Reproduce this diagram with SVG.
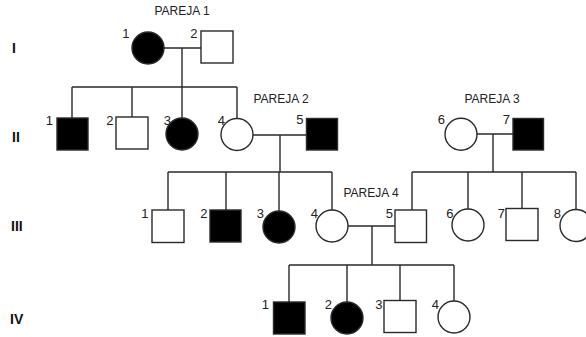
<svg xmlns="http://www.w3.org/2000/svg" width="586" height="337" viewBox="0 0 586 337">
<style>
.s{stroke:#2a2a2a;stroke-width:1.4;fill:#fff}
.f{stroke:#2a2a2a;stroke-width:1.4;fill:#000}
.l{stroke:#2a2a2a;stroke-width:1.4;fill:none}
.n{font-family:"Liberation Sans",Arial,sans-serif;font-size:13px;fill:#222;text-anchor:end}
.p{font-family:"Liberation Sans",Arial,sans-serif;font-size:12px;fill:#222;text-anchor:middle}
.r{font-family:"Liberation Sans",Arial,sans-serif;font-size:14px;font-weight:bold;fill:#111}
</style>
<rect width="586" height="337" fill="#fff"/>
<g id="generations">
<text class="r" x="12" y="53">I</text>
<text class="r" x="12" y="142">II</text>
<text class="r" x="11" y="231">III</text>
<text class="r" x="10" y="324">IV</text>
</g>
<g id="couple-labels">
<text class="p" x="182" y="15">PAREJA 1</text>
<text class="p" x="281" y="103">PAREJA 2</text>
<text class="p" x="492" y="103">PAREJA 3</text>
<text class="p" x="371" y="197">PAREJA 4</text>
</g>
<g id="connectors">
<path class="l" d="M164 48H201M182 48V87M72 87H237M72 87V118M132 87V117M182 87V118M237 87V118"/>
<path class="l" d="M253 135H306M280 135V172M168 172H332M168 172V210M226 172V210M279 172V211M332 172V210"/>
<path class="l" d="M477 134H513M493 134V172M412 172H576M412 172V210M468 172V209M522 172V208M576 172V209"/>
<path class="l" d="M348 226H395M372 226V265M289 265H454M289 265V302M347 265V302M400 265V300M454 265V301"/>
</g>
<g id="I-1"><circle class="f" cx="148" cy="48" r="16"/><text class="n" x="129.5" y="38">1</text></g>
<g id="I-2"><rect class="s" x="201" y="31" width="32" height="32"/><text class="n" x="197.5" y="38">2</text></g>
<g id="II-1"><rect class="f" x="57" y="118" width="31" height="32"/><text class="n" x="53" y="125">1</text></g>
<g id="II-2"><rect class="s" x="116" y="117" width="32" height="32"/><text class="n" x="113.5" y="125">2</text></g>
<g id="II-3"><circle class="f" cx="182" cy="134" r="16"/><text class="n" x="171" y="125">3</text></g>
<g id="II-4"><circle class="s" cx="237" cy="134.5" r="16"/><text class="n" x="225" y="125">4</text></g>
<g id="II-5"><rect class="f" x="306.5" y="118.5" width="31" height="31.5"/><text class="n" x="303.5" y="124">5</text></g>
<g id="II-6"><circle class="s" cx="461" cy="134.3" r="16"/><text class="n" x="445" y="124">6</text></g>
<g id="II-7"><rect class="f" x="513" y="118.5" width="30.5" height="31.5"/><text class="n" x="510" y="124">7</text></g>
<g id="III-1"><rect class="s" x="152" y="210" width="32" height="32.5"/><text class="n" x="148.5" y="218">1</text></g>
<g id="III-2"><rect class="f" x="210" y="210" width="31" height="32"/><text class="n" x="207.5" y="218">2</text></g>
<g id="III-3"><circle class="f" cx="279" cy="227" r="16"/><text class="n" x="264" y="218">3</text></g>
<g id="III-4"><circle class="s" cx="332" cy="226" r="16"/><text class="n" x="318" y="218">4</text></g>
<g id="III-5"><rect class="s" x="395" y="210" width="31.5" height="32.5"/><text class="n" x="393" y="218">5</text></g>
<g id="III-6"><circle class="s" cx="468" cy="225" r="16"/><text class="n" x="453.5" y="218">6</text></g>
<g id="III-7"><rect class="s" x="506" y="208.5" width="32" height="32"/><text class="n" x="505" y="218">7</text></g>
<g id="III-8"><circle class="s" cx="576" cy="225.5" r="16"/><text class="n" x="561" y="218">8</text></g>
<g id="IV-1"><rect class="f" x="273.5" y="302" width="31.5" height="32"/><text class="n" x="269" y="309">1</text></g>
<g id="IV-2"><circle class="f" cx="347" cy="318" r="16"/><text class="n" x="332" y="309">2</text></g>
<g id="IV-3"><rect class="s" x="384" y="300.5" width="32" height="32"/><text class="n" x="382.5" y="309">3</text></g>
<g id="IV-4"><circle class="s" cx="454" cy="317" r="16"/><text class="n" x="439" y="309">4</text></g>
</svg>
